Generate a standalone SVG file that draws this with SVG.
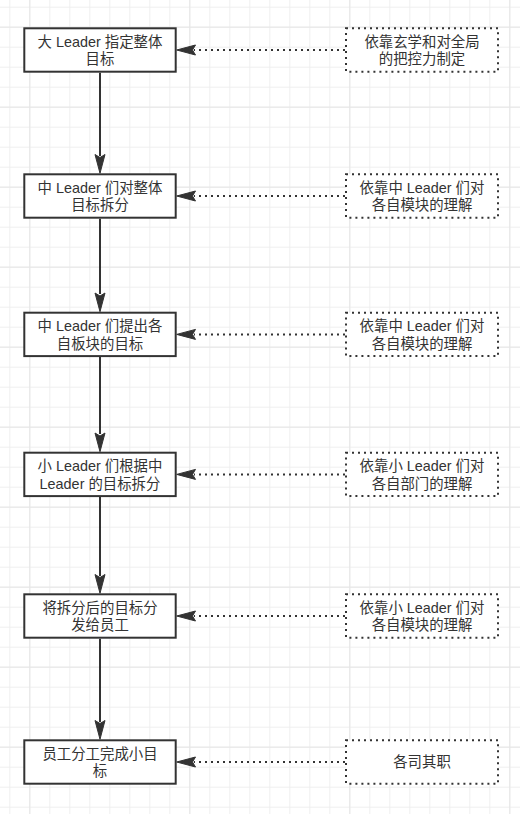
<svg xmlns="http://www.w3.org/2000/svg" width="520" height="814" viewBox="0 0 520 814">
<style>
.box{fill:#ffffff;stroke:#333333;stroke-width:2}
.dbox{fill:#ffffff;stroke:#333333;stroke-width:2;stroke-dasharray:2 4}
.t{font-family:"Liberation Sans","Noto Sans CJK SC",sans-serif;font-size:14.4px;fill:#333333;text-anchor:middle}
.solid{stroke:#333333;stroke-width:2;fill:none}
.dot{stroke:#333333;stroke-width:2;fill:none;stroke-dasharray:2 4}
.head{fill:#333333;stroke:#333333;stroke-width:1}
.major{stroke:#e6e6e6;stroke-width:1}
</style>
<defs>
<pattern id="grid" patternUnits="userSpaceOnUse" x="9.3" y="6.7" width="20" height="20">
<path d="M0 0.5H20M0.5 0V20" stroke="#efefef" stroke-width="1" fill="none"/>
</pattern>
</defs>
<rect x="0" y="0" width="520" height="814" fill="#ffffff"/>
<rect x="0" y="0" width="520" height="814" fill="url(#grid)"/>
<g id="grid-major">
<path class="major" d="M29.8 0V814M189.8 0V814M349.8 0V814M509.8 0V814M0 27.2H520M0 107.2H520M0 187.2H520M0 267.2H520M0 347.2H520M0 427.2H520M0 507.2H520M0 587.2H520M0 667.2H520M0 747.2H520"/>
</g>
<g id="connectors">
<path class="solid" d="M100 72.7V156"/>
<polygon class="head" points="100,173.3 95,154.5 100,157.5 105,154.5"/>
<path class="solid" d="M100 218.7V294"/>
<polygon class="head" points="100,311.7 95,293 100,296 105,293"/>
<path class="solid" d="M100 357.1V434"/>
<polygon class="head" points="100,451.7 95,433 100,436 105,433"/>
<path class="solid" d="M100 497.1V576"/>
<polygon class="head" points="100,593.3 95,574.5 100,577.5 105,574.5"/>
<path class="solid" d="M100 638.7V722"/>
<polygon class="head" points="100,739.3 95,720.5 100,723.5 105,720.5"/>
<path class="dot" d="M345 50H194"/>
<polygon class="head" points="176.7,50 195.5,45 192.5,50 195.5,55"/>
<path class="dot" d="M345 196H194"/>
<polygon class="head" points="176.7,196 195.5,191 192.5,196 195.5,201"/>
<path class="dot" d="M345 334.4H194"/>
<polygon class="head" points="176.7,334.4 195.5,329.4 192.5,334.4 195.5,339.4"/>
<path class="dot" d="M345 474.4H194"/>
<polygon class="head" points="176.7,474.4 195.5,469.4 192.5,474.4 195.5,479.4"/>
<path class="dot" d="M345 616H194"/>
<polygon class="head" points="176.7,616 195.5,611 192.5,616 195.5,621"/>
<path class="dot" d="M345 762H194"/>
<polygon class="head" points="176.7,762 195.5,757 192.5,762 195.5,767"/>
</g>
<g id="n1">
<rect class="box" x="24.3" y="28.3" width="151.4" height="43.4"/>
<text class="t" x="100" y="46.8">大 Leader 指定整体</text>
<text class="t" x="100" y="64.1">目标</text>
</g>
<g id="n2">
<rect class="box" x="24.3" y="174.3" width="151.4" height="43.4"/>
<text class="t" x="100" y="192.8">中 Leader 们对整体</text>
<text class="t" x="100" y="210.1">目标拆分</text>
</g>
<g id="n3">
<rect class="box" x="24.3" y="312.7" width="151.4" height="43.4"/>
<text class="t" x="100" y="331.2">中 Leader 们提出各</text>
<text class="t" x="100" y="348.5">自板块的目标</text>
</g>
<g id="n4">
<rect class="box" x="24.3" y="452.7" width="151.4" height="43.4"/>
<text class="t" x="100" y="471.2">小 Leader 们根据中</text>
<text class="t" x="100" y="488.5">Leader 的目标拆分</text>
</g>
<g id="n5">
<rect class="box" x="24.3" y="594.3" width="151.4" height="43.4"/>
<text class="t" x="100" y="612.8">将拆分后的目标分</text>
<text class="t" x="100" y="630.1">发给员工</text>
</g>
<g id="n6">
<rect class="box" x="24.3" y="740.3" width="151.4" height="43.4"/>
<text class="t" x="100" y="758.8">员工分工完成小目</text>
<text class="t" x="100" y="776.1">标</text>
</g>
<g id="d1">
<rect class="dbox" x="346" y="28.3" width="152" height="43.4"/>
<text class="t" x="422" y="46.8">依靠玄学和对全局</text>
<text class="t" x="422" y="64.1">的把控力制定</text>
</g>
<g id="d2">
<rect class="dbox" x="346" y="174.3" width="152" height="43.4"/>
<text class="t" x="422" y="192.8">依靠中 Leader 们对</text>
<text class="t" x="422" y="210.1">各自模块的理解</text>
</g>
<g id="d3">
<rect class="dbox" x="346" y="312.7" width="152" height="43.4"/>
<text class="t" x="422" y="331.2">依靠中 Leader 们对</text>
<text class="t" x="422" y="348.5">各自模块的理解</text>
</g>
<g id="d4">
<rect class="dbox" x="346" y="452.7" width="152" height="43.4"/>
<text class="t" x="422" y="471.2">依靠小 Leader 们对</text>
<text class="t" x="422" y="488.5">各自部门的理解</text>
</g>
<g id="d5">
<rect class="dbox" x="346" y="594.3" width="152" height="43.4"/>
<text class="t" x="422" y="612.8">依靠小 Leader 们对</text>
<text class="t" x="422" y="630.1">各自模块的理解</text>
</g>
<g id="d6">
<rect class="dbox" x="346" y="740.3" width="152" height="43.4"/>
<text class="t" x="422" y="767.3">各司其职</text>
</g>
</svg>
